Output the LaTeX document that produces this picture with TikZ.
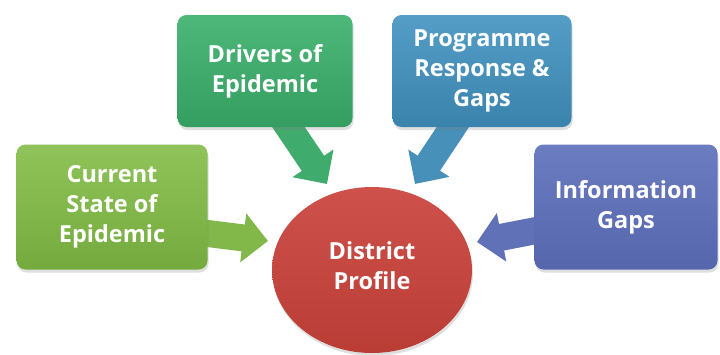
\documentclass[tikz,border=0pt]{standalone}
\usepackage{fontspec}
\setmainfont{Open Sans}
\usetikzlibrary{shapes.geometric,arrows.meta,shadows,calc}
\pgfdeclarelayer{bg}
\pgfsetlayers{bg,main}
\definecolor{cA}{HTML}{82B84A}
\definecolor{cAt}{HTML}{90C45A}
\definecolor{cAb}{HTML}{74AA3D}
\definecolor{cB}{HTML}{3FAB6C}
\definecolor{cBt}{HTML}{4DB87A}
\definecolor{cBb}{HTML}{349E60}
\definecolor{cC}{HTML}{4690BA}
\definecolor{cCt}{HTML}{549DC6}
\definecolor{cCb}{HTML}{3A83AD}
\definecolor{cD}{HTML}{6171B7}
\definecolor{cDt}{HTML}{6C7CC0}
\definecolor{cDb}{HTML}{5666AD}
\definecolor{cEt}{HTML}{CE524B}
\definecolor{cEb}{HTML}{B93C35}
\tikzset{
  lbl/.style={align=center, text=white, font=\bfseries\fontsize{23.5}{30}\selectfont},
  box/.style={lbl, rectangle, rounded corners=9pt, inner sep=0pt,
    drop shadow={opacity=0.25, shadow xshift=1pt, shadow yshift=-3pt}},
  blockarrow/.style={line width=27pt, -{Triangle[length=25pt,width=48pt]}},
}
\begin{document}
\begin{tikzpicture}[x=1pt,y=-1pt]
\useasboundingbox (0,0) rectangle (720,354);
% boxes
\node[box, minimum width=191pt, minimum height=125pt, top color=cAt, bottom color=cAb] (cur) at (112,207) {Current\\State of\\Epidemic};
\node[box, minimum width=175pt, minimum height=112pt, top color=cBt, bottom color=cBb] (drv) at (265,71) {Drivers of\\Epidemic};
\node[box, minimum width=179pt, minimum height=112pt, top color=cCt, bottom color=cCb] (prg) at (482,71) {Programme\\Response \&\\Gaps};
\node[box, minimum width=183pt, minimum height=125pt, top color=cDt, bottom color=cDb] (inf) at (626,207) {Information\\Gaps};
% centre
\node[ellipse, minimum width=200pt, minimum height=166pt, inner sep=0pt,
  top color=cEt, bottom color=cEb,
  drop shadow={opacity=0.25, shadow xshift=1pt, shadow yshift=-3pt}] (dp) at (372,270) {};
\node[lbl] (dpt) at ($(dp.center)+(0,-4)$) {District\\Profile};
% arrow endpoints
\coordinate (s1) at ($(cur.east)+(-20,24)$);
\coordinate (t1) at (268,241);
\coordinate (s2) at ($(drv.south)+(10,-20)$);
\coordinate (t2) at (327,184);
\coordinate (s3) at ($(prg.south)+(-16,-20)$);
\coordinate (t3) at (415,184);
\coordinate (s4) at ($(inf.west)+(20,20)$);
\coordinate (t4) at (477,242);
\begin{pgfonlayer}{bg}
\draw[blockarrow, cA] (s1) -- (t1);
\draw[blockarrow, cB] (s2) -- (t2);
\draw[blockarrow, cC] (s3) -- (t3);
\draw[blockarrow, cD] (s4) -- (t4);
\end{pgfonlayer}
\end{tikzpicture}
\end{document}
